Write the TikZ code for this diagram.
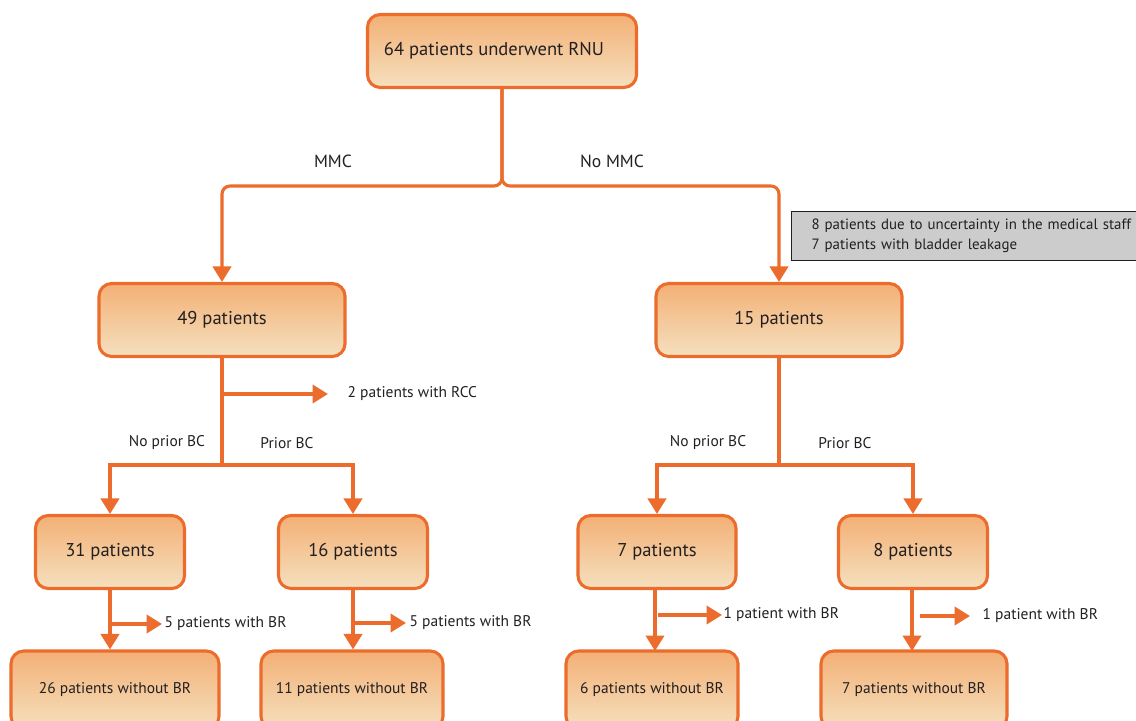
\documentclass[tikz,border=0pt]{standalone}
\usepackage{fontspec}
\setmainfont{PT Sans}
\usepackage{tikz}
\usetikzlibrary{backgrounds}
\usepackage{xcolor}
\usetikzlibrary{positioning}
\usetikzlibrary{arrows.meta}

\definecolor{flow}{RGB}{236,108,45}
\definecolor{boxtop}{RGB}{243,176,118}
\definecolor{boxbot}{RGB}{245,224,190}
\definecolor{note}{RGB}{204,204,204}
\definecolor{ink}{RGB}{35,31,32}

\begin{document}
\begin{tikzpicture}[x=0.025cm, y=-0.025cm,
  patbox/.style={draw=flow, line width=2.2pt, rounded corners=0.32cm,
    top color=boxtop, bottom color=boxbot, minimum height=1.825cm,
    text=ink, font=\fontsize{13.2}{15}\selectfont},
  endbox/.style={patbox, minimum height=1.95cm, font=\fontsize{11}{13}\selectfont},
  flowline/.style={draw=flow, line width=2.2pt},
  flowarrow/.style={flowline, -{Triangle[width=13pt, length=11pt]}},
  lbl/.style={text=ink, font=\fontsize{11}{13}\selectfont},
  sidelbl/.style={lbl, anchor=west, inner sep=1pt}]

\useasboundingbox (0,0) rectangle (1136,721);

% Patient boxes
\node[patbox, minimum width=6.725cm] (top) at (502,51) {64 patients underwent RNU\hspace*{0.4cm}};
\node[patbox, minimum width=6.15cm] (p49) at (222,320) {49 patients};
\node[patbox, minimum width=6.15cm] (p15) at (779,320) {15 patients};
\node[patbox, minimum width=3.725cm] (p31) at (110,552) {31 patients};
\node[patbox, minimum width=3.725cm] (p16) at (353,552) {16 patients};
\node[patbox, minimum width=3.95cm] (p7) at (657,552) {7 patients};
\node[patbox, minimum width=3.725cm] (p8) at (913,552) {8 patients};
\node[endbox, minimum width=5.2cm] (w26) at (115,690) {26 patients without BR};
\node[endbox, minimum width=4.55cm] (w11) at (352,690) {11 patients without BR};
\node[endbox, minimum width=4.3cm] (w6) at (652,690) {6 patients without BR};
\node[endbox, minimum width=4.65cm] (w7) at (914,690) {7 patients without BR};

% Grey note on the excluded patients
\node[draw=ink, line width=0.8pt, fill=note, anchor=north west, text width=8.6cm,
  minimum height=1.225cm, inner xsep=0.5cm, align=left, text=ink,
  font=\fontsize{10.6}{14}\selectfont] (excl) at (791,211)
  {8 patients due to uncertainty in the medical staff\\7 patients with bladder leakage};

% Split after RNU: MMC / No MMC
\coordinate (split) at (top.south |- 0,186);
\draw[flowarrow, rounded corners=0.2cm] (top.south) -- (split) -- (p49.north |- split) -- (p49.north);
\draw[flowarrow, rounded corners=0.2cm] (top.south) -- (split) -- (p15.north |- split) -- (p15.north);
\node[lbl, font=\fontsize{12.5}{14}\selectfont] (mmc) at (333,161) {MMC};
\node[lbl, font=\fontsize{12.5}{14}\selectfont] (nommc) at (612,161) {No MMC};

% MMC branch: prior BC or not
\coordinate (rcc) at (p49.south |- 0,394);
\coordinate (lsplit) at (p49.south |- 0,465);
\node[sidelbl] (rcctxt) at (346,394) {2 patients with RCC};
\draw[flowline] (p49.south) -- (lsplit);
\draw[flowarrow] (rcc) -- (328,394);
\draw[flowarrow] (lsplit) -| (p31.north);
\draw[flowarrow] (lsplit) -| (p16.north);
\node[lbl] (lnoprior) at (167,443) {No prior BC};
\node[lbl] (lprior) at (287,443) {Prior BC};

% No MMC branch: prior BC or not
\coordinate (rsplit) at (p15.south |- 0,465);
\draw[flowline] (p15.south) -- (rsplit);
\draw[flowarrow] (rsplit) -| (p7.north);
\draw[flowarrow] (rsplit) -| (p8.north);
\node[lbl] (rnoprior) at (708,443) {No prior BC};
\node[lbl] (rprior) at (845,443) {Prior BC};

% Bladder recurrence
\draw[flowarrow] (p31.south) -- (p31.south |- w26.north);
\draw[flowarrow] (p31.south |- 0,624) -- (162,624);
\node[sidelbl] (br31) at (163,624) {5 patients with BR};

\draw[flowarrow] (p16.south) -- (p16.south |- w11.north);
\draw[flowarrow] (p16.south |- 0,623) -- (406,623);
\node[sidelbl] (br16) at (408,623) {5 patients with BR};

\draw[flowarrow] (p7.south -| 655,0) -- (655,651);
\draw[flowarrow] (658,615) -- (722,615);
\node[sidelbl] (br7) at (722,615) {1 patient with BR};

\draw[flowarrow] (p8.south -| 912,0) -- (912,651);
\draw[flowarrow] (920,616) -- (970,616);
\node[sidelbl] (br8) at (981,616) {1 patient with BR};

\end{tikzpicture}
\end{document}
